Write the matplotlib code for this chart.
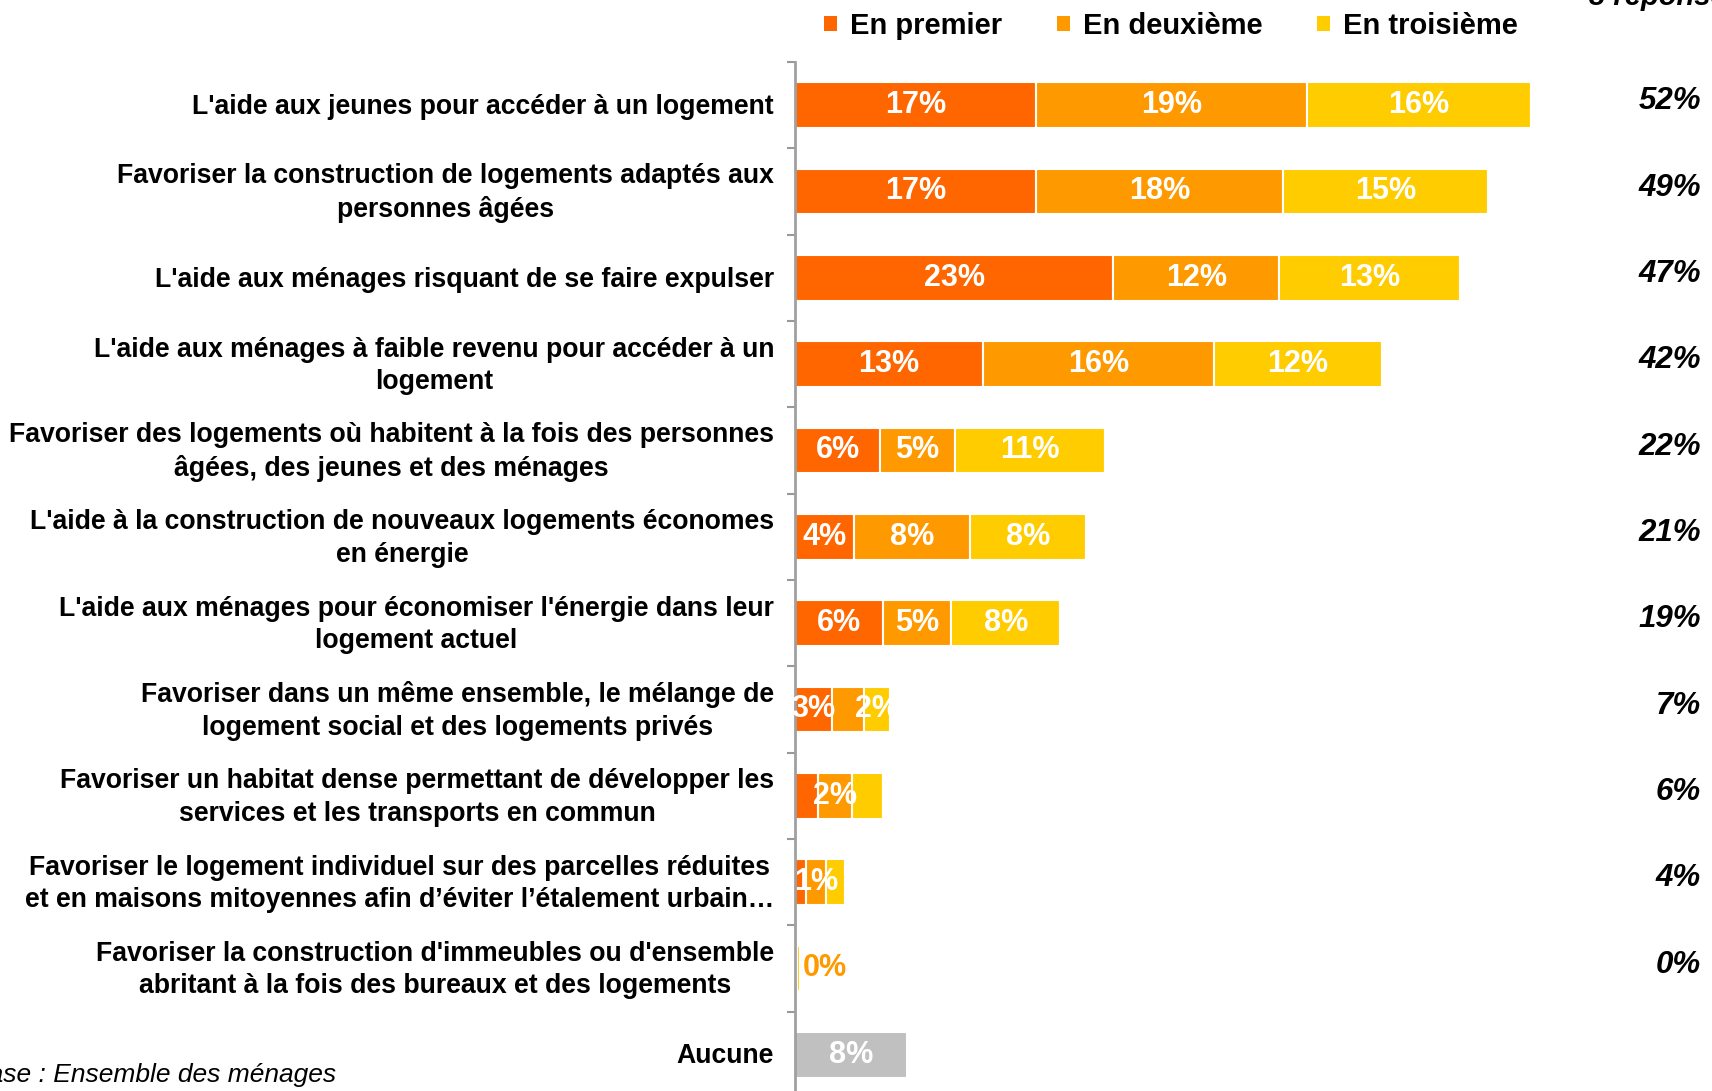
import matplotlib
matplotlib.use("Agg")
import matplotlib.pyplot as plt
from matplotlib.patches import Patch
from matplotlib.transforms import blended_transform_factory
import numpy as np

plt.rcParams['font.family'] = ['Liberation Sans', 'DejaVu Sans']

categories = [
    "L'aide aux jeunes pour accéder à un logement",
    "Favoriser la construction de logements adaptés aux\npersonnes âgées",
    "L'aide aux ménages risquant de se faire expulser",
    "L'aide aux ménages à faible revenu pour accéder à un\nlogement",
    "Favoriser des logements où habitent à la fois des personnes\nâgées, des jeunes et des ménages",
    "L'aide à la construction de nouveaux logements économes\nen énergie",
    "L'aide aux ménages pour économiser l'énergie dans leur\nlogement actuel",
    "Favoriser dans un même ensemble, le mélange de\nlogement social et des logements privés",
    "Favoriser un habitat dense permettant de développer les\nservices et les transports en commun",
    "Favoriser le logement individuel sur des parcelles réduites\net en maisons mitoyennes afin d’éviter l’étalement urbain…",
    "Favoriser la construction d'immeubles ou d'ensemble\nabritant à la fois des bureaux et des logements",
    "Aucune",
]
series_names = ["En premier", "En deuxième", "En troisième"]
premier   = [17.0, 17.0, 22.5, 13.3, 6.0, 4.2, 6.25, 2.6, 1.6, 0.8, 0.1, 0.0]
deuxieme  = [19.2, 17.5, 11.7, 16.3, 5.3, 8.2, 4.8, 2.3, 2.4, 1.4, 0.05, 0.0]
troisieme = [15.8, 14.5, 12.8, 11.9, 10.6, 8.2, 7.7, 1.8, 2.2, 1.3, 0.2, 0.0]
aucune    = [0, 0, 0, 0, 0, 0, 0, 0, 0, 0, 0, 7.9]
lbl_premier   = ["17%", "17%", "23%", "13%", "6%", "4%", "6%", "3%", "", "", "", ""]
lbl_deuxieme  = ["19%", "18%", "12%", "16%", "5%", "8%", "5%", "", "2%", "1%", "", ""]
lbl_troisieme = ["16%", "15%", "13%", "12%", "11%", "8%", "8%", "2%", "", "", "", ""]
lbl_aucune    = ["", "", "", "", "", "", "", "", "", "", "", "8%"]
totals = ["52%", "49%", "47%", "42%", "22%", "21%", "19%", "7%", "6%", "4%", "0%", ""]
small_label = {10: "0%"}

colors = ["#FF6600", "#FF9900", "#FFCC00"]
gray = "#C0C0C0"

W, H = 1712, 1091
fig = plt.figure(figsize=(W / 100, H / 100), dpi=100)
ax = fig.add_axes([795 / W, 0, 849 / W, 1 - 62 / H])

y = np.arange(len(categories))
bh = 0.53
left = np.zeros(len(categories))
for vals, lbls, col in zip([premier, deuxieme, troisieme], [lbl_premier, lbl_deuxieme, lbl_troisieme], colors):
    bars = ax.barh(y, vals, left=left, height=bh, color=col, edgecolor="white", linewidth=1.5)
    ax.bar_label(bars, labels=lbls, label_type="center", color="white", fontsize=22, fontweight="bold")
    left = left + np.array(vals)
bars = ax.barh(y, aucune, left=left, height=bh, color=gray, edgecolor="white", linewidth=1.5)
ax.bar_label(bars, labels=lbl_aucune, label_type="center", color="white", fontsize=22, fontweight="bold")
left = left + np.array(aucune)

for i, s in small_label.items():
    ax.text(left[i] + 0.2, y[i], s, color="#FF9900", fontsize=22, fontweight="bold", va="center", ha="left")

tr = blended_transform_factory(fig.transFigure, ax.transData)
for i, t in enumerate(totals):
    ax.text(1701 / W, y[i] - 0.045, t, transform=tr, ha="right", va="center",
            fontsize=22.5, fontweight="bold", fontstyle="italic", color="black")

# category labels
ytr = ax.get_yaxis_transform()
for i, c in enumerate(categories):
    ax.text(-21 / 849, y[i] + 0.02, c, transform=ytr, ha="right", va="center",
            multialignment="center", linespacing=1.33, fontsize=19.2, fontweight="bold")

ax.set_xlim(0, 60)
ax.set_ylim(len(categories) - 0.58, -0.5)
ax.set_yticks(np.arange(-0.5, len(categories) - 1, 1))
ax.set_yticklabels([])
ax.tick_params(axis="y", which="major", length=6, width=1.5, color="#999999", direction="out")
ax.set_xticks([])
for sp in ["top", "right", "bottom"]:
    ax.spines[sp].set_visible(False)
ax.spines["left"].set_color("#A0A0A0")
ax.spines["left"].set_linewidth(2)

handles = [Patch(facecolor=c, edgecolor="none", label=n) for c, n in zip(colors, series_names)]
fig.legend(handles=handles, loc="center left", bbox_to_anchor=(824 / W, 1 - 26 / H), ncol=3,
           frameon=False, prop={"weight": "bold", "size": 21},
           handlelength=0.45, handleheight=0.45, handletextpad=0.45, columnspacing=1.86,
           borderpad=0, borderaxespad=0)

fig.text(336 / W, 1 - 1075 / H, "Base : Ensemble des ménages", ha="right", va="center",
         fontsize=19, fontstyle="italic")
fig.text(1589 / W, 1 - 5 / H, "3 réponses", ha="left", va="baseline",
         fontsize=21, fontweight="bold", fontstyle="italic")

fig.savefig("out.png", dpi=100)
